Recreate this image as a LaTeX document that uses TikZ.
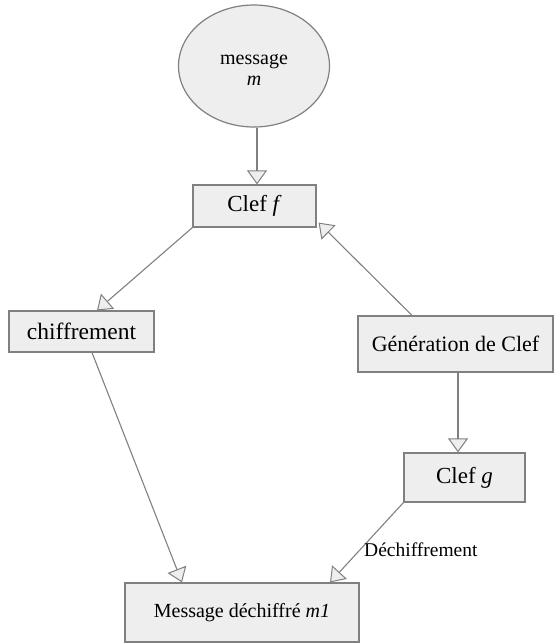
\documentclass[tikz,border=0pt]{standalone}
\usepackage{fontspec}
\setmainfont{Liberation Serif}
\usetikzlibrary{arrows.meta,shapes.geometric,calc}
\definecolor{boxfill}{HTML}{EEEEEE}
\definecolor{edge}{HTML}{808080}
\begin{document}
\begin{tikzpicture}[x=1pt,y=-1pt,
  box/.style={draw=edge,fill=boxfill,line width=1.2pt,rectangle,inner sep=0pt,font=\fontsize{22}{24}\selectfont},
  flow/.style={draw=edge,line width=1.1pt,-{Triangle[width=20pt,length=14pt,fill=boxfill,line width=1pt]}}]
\useasboundingbox (0,0) rectangle (557,643);

% source message
\node[box,ellipse,minimum width=151pt,minimum height=122pt] (msg) at (254,66) {};
\node[align=center,inner sep=0pt,font=\fontsize{20}{21}\selectfont] (msgtxt) at (254,70) {message\\\textit{m}};

% key and processing boxes
\node[box,minimum width=123pt,minimum height=42pt,font=\fontsize{23}{24}\selectfont] (cf) at (254.5,206) {Clef \textit{f}};
\node[box,minimum width=145pt,minimum height=41pt,font=\fontsize{23.5}{24}\selectfont] (ch) at (81.5,331.5) {chiffrement};
\node[box,minimum width=195pt,minimum height=56pt] (gen) at (455.5,344) {Génération de Clef};
\node[box,minimum width=121pt,minimum height=49pt,font=\fontsize{23}{24}\selectfont] (cg) at (464.5,477.5) {Clef \textit{g}};
\node[box,minimum width=234pt,minimum height=59pt,font=\fontsize{20}{24}\selectfont] (out) at (242,612.5) {Message déchiffré \textit{m1}};

% connectors
\draw[flow] ($(msg.south)+(3,0)$) -- ($(cf.north)+(2.5,0)$);
\draw[flow] (cf.south west) -- ($(ch.north)+(15.5,0)$);
\draw[flow] ($(gen.north)+(-43.5,0)$) -- ($(cf.south east)+(2,-5)$);
\draw[flow] ($(gen.south)+(2.5,0)$) -- ($(cg.north)+(-6.5,0)$);
\draw[flow] ($(ch.south)+(10.5,0)$) -- ($(out.north)+(-60,0)$);
\draw[flow] (cg.south west) -- ($(out.north)+(88,0)$);

\node[anchor=west,inner sep=0pt,font=\fontsize{19.5}{22}\selectfont] (dech) at (364,550) {Déchiffrement};
\end{tikzpicture}
\end{document}
